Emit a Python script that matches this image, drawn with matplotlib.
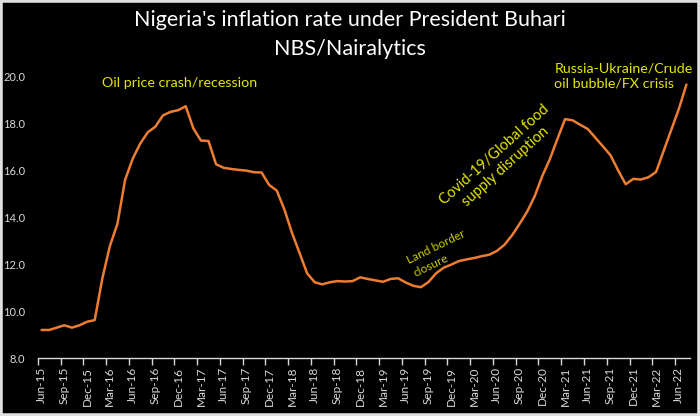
import matplotlib.pyplot as plt
from matplotlib.patches import Rectangle

# monthly headline inflation, Jun 2015 .. Jul 2022
months = ['Jan', 'Feb', 'Mar', 'Apr', 'May', 'Jun',
          'Jul', 'Aug', 'Sep', 'Oct', 'Nov', 'Dec']
y2015 = [9.20, 9.20, 9.30, 9.40, 9.30, 9.40, 9.55]          # Jun-Dec
y2016 = [9.62, 11.38, 12.77, 13.72, 15.58, 16.48, 17.13, 17.61, 17.85, 18.33, 18.48, 18.55]
y2017 = [18.72, 17.78, 17.26, 17.24, 16.25, 16.10, 16.05, 16.01, 15.98, 15.91, 15.90, 15.37]
y2018 = [15.13, 14.33, 13.34, 12.48, 11.61, 11.23, 11.14, 11.23, 11.28, 11.26, 11.28, 11.44]
y2019 = [11.37, 11.31, 11.25, 11.37, 11.40, 11.22, 11.08, 11.02, 11.24, 11.61, 11.85, 11.98]
y2020 = [12.13, 12.20, 12.26, 12.34, 12.40, 12.56, 12.82, 13.22, 13.71, 14.23, 14.89, 15.75]
y2021 = [16.47, 17.33, 18.17, 18.12, 17.93, 17.75, 17.38, 17.01, 16.63, 15.99, 15.40, 15.63]
y2022 = [15.60, 15.70, 15.92, 16.82, 17.71, 18.60, 19.64]   # Jan-Jul

values = y2015 + y2016 + y2017 + y2018 + y2019 + y2020 + y2021 + y2022
labels = [m + '-15' for m in months[5:]]
for yy in ['16', '17', '18', '19', '20', '21']:
    labels += [m + '-' + yy for m in months]
labels += [m + '-22' for m in months[:7]]

FONT = 'Lato'
ORANGE = '#ed7d31'
YELLOW = '#e6e600'
GREY = '#d9d9d9'

fig = plt.figure(figsize=(7, 4.16), dpi=100, facecolor='black')
ax = fig.add_axes([0.054, 0.139, 0.932, 0.678], facecolor='black')

x = list(range(len(values)))
ax.plot(x, values, color=ORANGE, lw=1.8, solid_joinstyle='round',
        solid_capstyle='round')

ax.set_xlim(-0.5, len(values) - 0.5)
ax.set_ylim(8, 20)

# labels at category centres, tick marks at category boundaries
ax.set_xticks(x[::3])
ax.set_xticklabels(labels[::3], rotation=90, fontsize=8.5, color=GREY, family=FONT)
ax.set_xticks([i - 0.5 for i in x[::3]], minor=True)
ax.tick_params(axis='x', which='major', length=0, pad=6)
ax.tick_params(axis='x', which='minor', length=5, width=1, color=GREY, direction='out')

ax.set_yticks([8, 10, 12, 14, 16, 18, 20])
ax.set_yticklabels(['%.1f' % v for v in [8, 10, 12, 14, 16, 18, 20]],
                   fontsize=8, color=GREY, family=FONT)
ax.tick_params(axis='y', length=0, pad=9)

for side in ['top', 'right', 'left']:
    ax.spines[side].set_visible(False)
ax.spines['bottom'].set_color(GREY)
ax.spines['bottom'].set_linewidth(1)

fig.text(0.5, 0.952, "Nigeria's inflation rate under President Buhari",
         ha='center', va='center', color='white', fontsize=15.5, family=FONT)
fig.text(0.5, 0.882, "NBS/Nairalytics",
         ha='center', va='center', color='white', fontsize=15.5, family=FONT)

ax.text(18.2, 19.7, 'Oil price crash/recession', color=YELLOW, fontsize=10.3,
        family=FONT, ha='center', va='center')
ax.text(67.6, 20.0, 'Russia-Ukraine/Crude\noil bubble/FX crisis', color=YELLOW,
        fontsize=10.3, family=FONT, ha='left', va='center', multialignment='left',
        linespacing=1.3)
ax.text(60.4, 16.4, 'Covid-19/Global food\nsupply disruption', color=YELLOW,
        fontsize=10.5, family=FONT, ha='center', va='center', rotation=42,
        multialignment='center', linespacing=1.2, rotation_mode='anchor')
ax.text(52.4, 12.45, 'Land border\nclosure', color='#cccc00', fontsize=8.6,
        family=FONT, ha='center', va='center', rotation=26,
        multialignment='left', linespacing=1.3, rotation_mode='anchor')

# thin light frame round the picture
fig.patches.append(Rectangle((0, 0), 1, 1, transform=fig.transFigure,
                             fill=False, edgecolor='#e0e0e0', linewidth=4))

fig.savefig('out.png', dpi=100, facecolor='black')
